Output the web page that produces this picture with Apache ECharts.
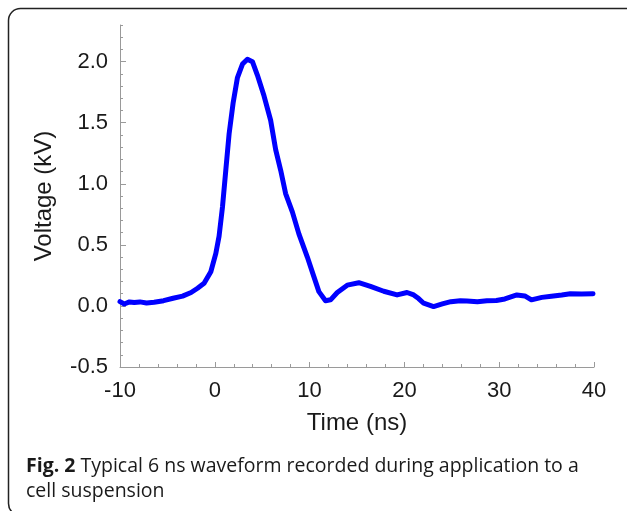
<!DOCTYPE html>
<html>
<head>
<meta charset="utf-8">
<script src="https://cdn.jsdelivr.net/npm/echarts@6/dist/echarts.min.js"></script>
<style>
  html, body { margin: 0; padding: 0; background: #fff; }
  #chart { width: 627px; height: 511px; }
</style>
</head>
<body>
<div id="chart"></div>
<script>
// waveform: time (ns) and voltage (kV)
const times = [-10, -9.55, -9.0, -8.5, -7.9, -7.2, -6.4, -5.4, -4.4, -3.4, -2.5, -1.82, -1.13, -0.42,
  0.11, 0.45, 0.81, 1.16, 1.51, 1.93, 2.39, 2.92, 3.44, 3.97, 4.49, 5.19, 5.89, 6.42, 6.95, 7.47,
  8.18, 8.87, 9.76, 10.45, 10.98, 11.68, 12.21, 12.92, 13.97, 15.19, 16.42, 17.82, 19.23, 20.28,
  20.98, 21.5, 22.03, 23.08, 24.0, 24.9, 25.9, 26.6, 27.7, 28.7, 29.7, 30.6, 31.86, 32.7, 33.4,
  34.5, 35.5, 36.6, 37.5, 38.7, 39.9];
const volts = [0.035, 0.016, 0.033, 0.028, 0.033, 0.024, 0.03, 0.043, 0.063, 0.08, 0.11, 0.145, 0.185, 0.28,
  0.43, 0.57, 0.81, 1.11, 1.41, 1.66, 1.87, 1.98, 2.02, 2.00, 1.89, 1.72, 1.52, 1.28, 1.11, 0.92,
  0.77, 0.59, 0.40, 0.24, 0.117, 0.043, 0.05, 0.11, 0.17, 0.19, 0.16, 0.12, 0.09, 0.11,
  0.09, 0.06, 0.022, -0.005, 0.016, 0.035, 0.043, 0.04, 0.035, 0.043, 0.045, 0.057, 0.09, 0.082, 0.05,
  0.07, 0.08, 0.09, 0.10, 0.098, 0.10];
const yMajor = [-0.5, 0, 0.5, 1, 1.5, 2];

const chart = echarts.init(document.getElementById('chart'));
const axisFont = 'Liberation Sans, Arial, sans-serif';
const axisGray = '#9a9a9a';

chart.setOption({
  animation: false,
  grid: { left: 120, right: 33, top: 25, bottom: 144 },
  xAxis: {
    type: 'value',
    min: -10,
    max: 40,
    interval: 10,
    name: 'Time (ns)',
    nameLocation: 'middle',
    nameGap: 44,
    nameTextStyle: { fontFamily: axisFont, fontSize: 24, color: '#1a1a1a' },
    axisLine: { onZero: false, lineStyle: { color: axisGray, width: 1 } },
    axisTick: { inside: true, length: 5, lineStyle: { color: axisGray } },
    minorTick: { show: true, splitNumber: 5, length: 3, lineStyle: { color: axisGray } },
    splitLine: { show: false },
    axisLabel: { fontFamily: axisFont, fontSize: 22, color: '#1a1a1a', margin: 13 }
  },
  yAxis: [{
    type: 'value',
    min: -0.5,
    max: 2.3,
    interval: 0.1,
    name: 'Voltage (kV)',
    nameLocation: 'middle',
    nameGap: 64,
    nameTextStyle: { fontFamily: axisFont, fontSize: 24, color: '#1a1a1a' },
    axisLine: { show: true, onZero: false, lineStyle: { color: axisGray, width: 1 } },
    axisTick: { inside: true, length: 3, lineStyle: { color: axisGray } },
    splitLine: { show: false },
    axisLabel: {
      customValues: yMajor,
      fontFamily: axisFont, fontSize: 22, color: '#1a1a1a', margin: 12,
      formatter: v => v.toFixed(1)
    }
  }, {
    type: 'value',
    position: 'left',
    min: -0.5,
    max: 2.3,
    axisLine: { show: false, onZero: false },
    axisTick: { show: true, inside: true, length: 6, customValues: yMajor, lineStyle: { color: axisGray } },
    axisLabel: { show: false },
    splitLine: { show: false }
  }],
  series: [{
    type: 'line',
    data: times.map((t, i) => [t, volts[i]]),
    showSymbol: false,
    lineStyle: { color: '#0000ff', width: 5, join: 'round', cap: 'round' },
    itemStyle: { color: '#0000ff' }
  }],
  graphic: [
    {
      type: 'rect',
      shape: { x: 8.5, y: 8.5, width: 640, height: 507, r: 12 },
      style: { fill: 'none', stroke: '#222', lineWidth: 1.5 }
    },
    {
      type: 'text',
      left: 26,
      top: 454,
      style: {
        text: '{b|Fig. 2} Typical 6 ns waveform recorded during application to a\ncell suspension',
        font: '19.5px "Open Sans", sans-serif',
        fill: '#1a1a1a',
        lineHeight: 25,
        rich: {
          b: { fontWeight: 'bold', fontSize: 19.5, fontFamily: 'Open Sans', fill: '#1a1a1a' }
        }
      }
    }
  ]
});
</script>
</body>
</html>
